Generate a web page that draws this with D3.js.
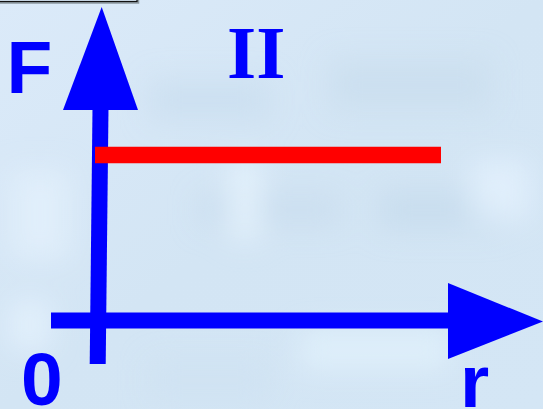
<!DOCTYPE html>
<html>
<head>
<meta charset="utf-8">
<script src="https://cdn.jsdelivr.net/npm/d3@7"></script>
<style>
  html, body { margin: 0; padding: 0; overflow: hidden; background: #d6e7f6; }
  svg { display: block; }
</style>
</head>
<body>
<svg id="chart" width="543" height="409"></svg>
<script>
const width = 543;
const height = 409;

// F(r) for region II: a constant force
const rValues = [0, 8];
const fValues = [5, 5];

const axisLabels = ['F', 'r', '0'];
const regionLabel = 'II';

const blue = '#0000ff';
const red = '#ff0000';
const shaft = 16;

const svg = d3.select('#chart');

const x = d3.scaleLinear().domain([0, 10]).range([95, 527.5]);
const y = d3.scaleLinear().domain([0, 10]).range([320.5, -10.5]);

// background: soft cloudy light blue
const defs = svg.append('defs');
const grad = defs.append('linearGradient')
  .attr('id', 'bg')
  .attr('x1', 0).attr('y1', 0)
  .attr('x2', 1).attr('y2', 1);
grad.append('stop').attr('offset', '0%').attr('stop-color', '#dbeaf9');
grad.append('stop').attr('offset', '50%').attr('stop-color', '#d3e5f4');
grad.append('stop').attr('offset', '100%').attr('stop-color', '#d4e6f5');

defs.append('filter')
  .attr('id', 'blur')
  .attr('x', '-50%').attr('y', '-50%')
  .attr('width', '200%').attr('height', '200%')
  .append('feGaussianBlur')
  .attr('stdDeviation', 14);

svg.append('rect')
  .attr('width', width)
  .attr('height', height)
  .attr('fill', 'url(#bg)');

const patches = [
  [150, 80, 120, 40, '#c9ddef'],
  [330, 60, 160, 50, '#cadded'],
  [200, 195, 140, 30, '#c8dcee'],
  [380, 190, 120, 40, '#c6dbec'],
  [230, 160, 30, 80, '#e8f6fe'],
  [10, 170, 60, 90, '#e3f0fc'],
  [470, 160, 60, 60, '#e4f2fd'],
  [300, 330, 150, 40, '#e2f1fc'],
  [150, 360, 120, 40, '#cfe1f1'],
  [10, 300, 40, 50, '#e6f3fd'],
];
svg.append('g')
  .attr('filter', 'url(#blur)')
  .selectAll('rect')
  .data(patches)
  .join('rect')
  .attr('x', d => d[0])
  .attr('y', d => d[1])
  .attr('width', d => d[2])
  .attr('height', d => d[3])
  .attr('fill', d => d[4])
  .attr('opacity', 0.75);

// frame edge at the top-left corner
svg.append('rect')
  .attr('x', -5).attr('y', -5)
  .attr('width', 143).attr('height', 7.5)
  .attr('fill', 'none')
  .attr('stroke', '#8c98a0')
  .attr('stroke-width', 2.5);
svg.append('rect')
  .attr('x', -5).attr('y', -5)
  .attr('width', 142).attr('height', 6.5)
  .attr('fill', 'none')
  .attr('stroke', '#111')
  .attr('stroke-width', 1.2);

// axes
const axes = svg.append('g');
axes.append('line')
  .attr('x1', 51).attr('y1', y(0))
  .attr('x2', 450).attr('y2', y(0))
  .attr('stroke', blue)
  .attr('stroke-width', shaft);
axes.append('path')
  .attr('d', 'M448,283L543,321.5L448,359Z')
  .attr('fill', blue);

axes.append('line')
  .attr('x1', 97.7).attr('y1', 364)
  .attr('x2', 100.5).attr('y2', 108)
  .attr('stroke', blue)
  .attr('stroke-width', shaft);
axes.append('path')
  .attr('d', 'M101.7,7L138,110L63,110Z')
  .attr('fill', blue);

// F(r) line
const line = d3.line()
  .x((d, i) => x(rValues[i]))
  .y(d => y(d));
svg.append('path')
  .datum(fValues)
  .attr('d', line)
  .attr('fill', 'none')
  .attr('stroke', red)
  .attr('stroke-width', 16.5);

// labels
const sans = "'Liberation Sans', Arial, sans-serif";
svg.append('text')
  .attr('x', 6.5).attr('y', 93)
  .attr('font-family', sans)
  .attr('font-weight', 'bold')
  .attr('font-size', 75)
  .attr('fill', blue)
  .text(axisLabels[0]);
svg.append('text')
  .attr('x', 460).attr('y', 407)
  .attr('font-family', sans)
  .attr('font-weight', 'bold')
  .attr('font-size', 75)
  .attr('fill', blue)
  .text(axisLabels[1]);
svg.append('text')
  .attr('x', 21).attr('y', 405)
  .attr('font-family', sans)
  .attr('font-weight', 'bold')
  .attr('font-size', 75)
  .attr('fill', blue)
  .text(axisLabels[2]);
svg.append('text')
  .attr('x', 227).attr('y', 78)
  .attr('font-family', "'Liberation Serif', 'Times New Roman', serif")
  .attr('font-weight', 'bold')
  .attr('font-size', 75)
  .attr('fill', blue)
  .text(regionLabel);
</script>
</body>
</html>
